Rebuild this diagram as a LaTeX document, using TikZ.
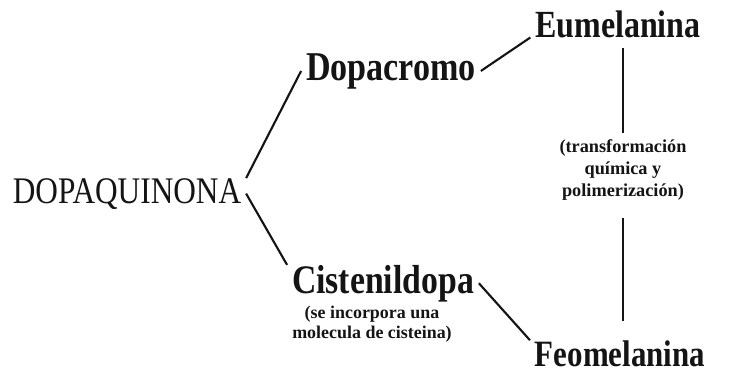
\documentclass[tikz,border=0pt]{standalone}
\usepackage{graphicx}
\usepackage{fontspec}
\setmainfont{Liberation Serif}
\definecolor{ink}{RGB}{20,20,20}
\newcommand{\tall}[2][9.2]{\scalebox{1}[1.2]{\fontsize{#1}{11}\selectfont #2}}

\begin{document}
\begin{tikzpicture}[x=0.01cm, y=-0.01cm,
    compound/.style={font=\bfseries, text=ink,
      inner xsep=1.4pt, inner ysep=0pt, outer sep=0pt, anchor=base},
    remark/.style={font=\bfseries\fontsize{5.1}{5.6}\selectfont, text=ink,
      align=center, inner sep=0pt, outer sep=0pt},
    link/.style={draw=ink, line width=0.6pt}]
  \useasboundingbox (0,0) rectangle (729,369);
        %start
        \node[compound, font=\mdseries] (dopa) at (127,203) {\tall[8.9]{DOPAQUINONA}};
        %upper branch
        \node[compound] (dopacromo) at (391,80) {\tall[9.7]{Dopacromo}};
        \node[compound] (eumel) at (618,37) {\tall[9.1]{Eumelanina}};
        %lower branch
        \node[compound] (cist) at (383,293) {\tall[9.6]{Cistenildopa}};
        \node[remark] (cistnote) at (372,324) {(se incorpora una\\molecula de cisteina)};
        \node[compound] (feomel) at (620,366) {\tall[8.8]{Feomelanina}};
        %between the two melanins
        \node[remark, font=\bfseries\fontsize{5.2}{6.2}\selectfont] (trans) at (623,170)
        {(transformación\\química y\\polimerización)};

        \draw[link] (dopa.north east)--(dopacromo.west);
        \draw[link] (dopa.east)--(cist.north west);
        \draw[link] (dopacromo.east)--(eumel.south west);
        \draw[link] (cist.east)--(feomel.north west);
        \draw[link, shorten <=3.1pt, shorten >=1.8pt] (eumel.south -| trans.north)--(trans.north);
        \draw[link, shorten <=5pt, shorten >=5.4pt] (trans.south)--(feomel.north -| trans.south);
      \end{tikzpicture}
\end{document}
